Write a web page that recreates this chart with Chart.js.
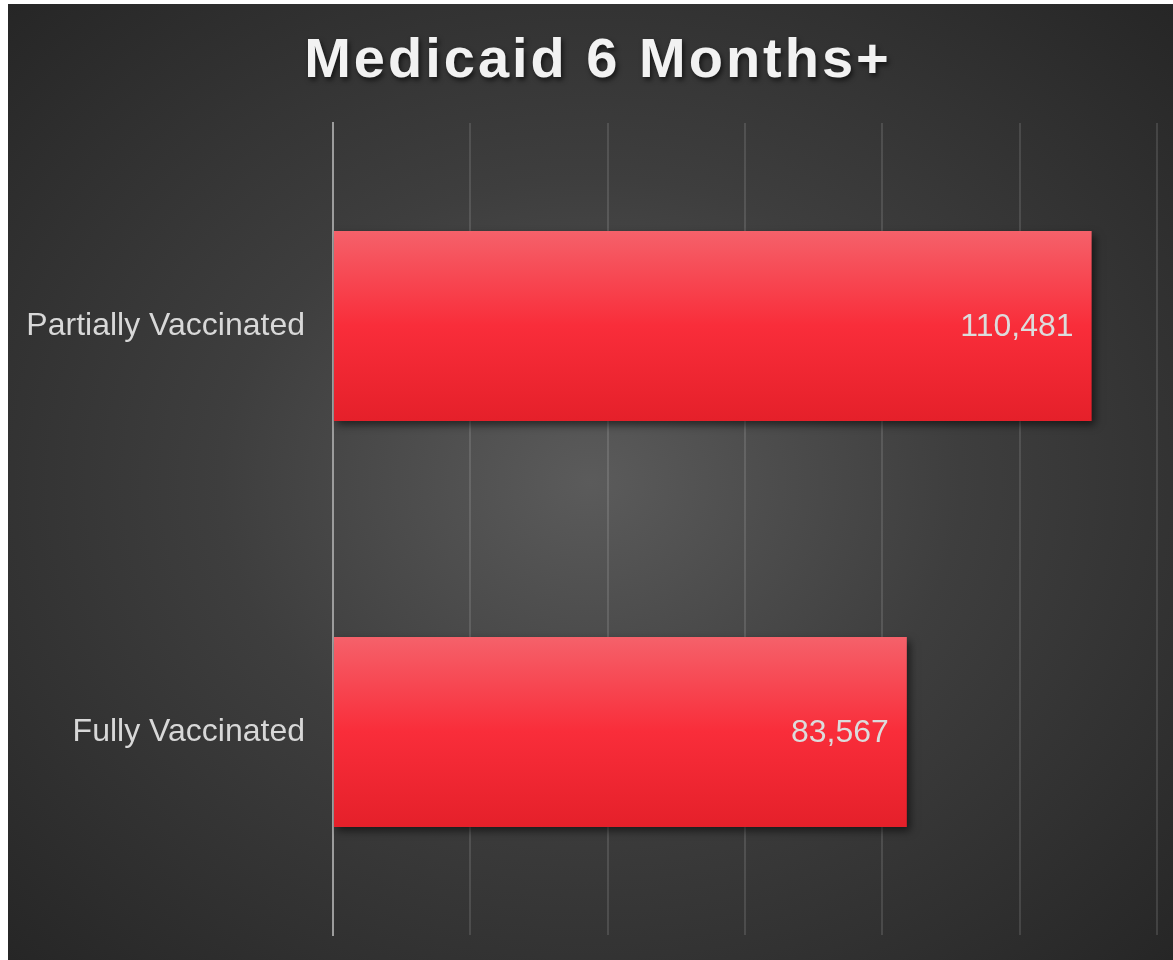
<!DOCTYPE html>
<html>
<head>
<meta charset="utf-8">
<script src="https://cdn.jsdelivr.net/npm/chart.js@4/dist/chart.umd.min.js"></script>
<style>
    html, body { margin: 0; padding: 0; background: #ffffff; }
    #panel {
        position: absolute; left: 8px; top: 4px; width: 1165px; height: 956px;
        background: radial-gradient(ellipse at 50% 50%, #5b5b5b 0%, #3e3e3e 45%, #262626 100%);
    }
    #wrap { position: absolute; left: 0; top: 0; width: 1173px; height: 960px; }
</style>
</head>
<body>
<div id="panel"></div>
<div id="wrap"><canvas id="chart" width="1173" height="960"></canvas></div>
<script>
const chartTitle = 'Medicaid 6 Months+';
const categories = ['Partially Vaccinated', 'Fully Vaccinated'];
const counts = [110481, 83567];
const axisMax = 120000;
const axisStep = 20000;

const BAR_PCT = 0.468;

// bar fill: vertical gradient inside each bar
function barGradient(context) {
    const chart = context.chart;
    const area = chart.chartArea;
    if (!area || !chart.scales.y) return '#f92d3a';
    const center = chart.scales.y.getPixelForValue(context.dataIndex);
    const half = (area.height / categories.length) * BAR_PCT / 2;
    const g = chart.ctx.createLinearGradient(0, center - half, 0, center + half);
    g.addColorStop(0, '#f5616a');
    g.addColorStop(0.5, '#f92d3a');
    g.addColorStop(1, '#e5202a');
    return g;
}

const decorPlugin = {
    id: 'decor',
    beforeDatasetsDraw(chart) {
        const ctx = chart.ctx;
        ctx.save();
        ctx.shadowColor = 'rgba(0,0,0,0.55)';
        ctx.shadowBlur = 8;
        ctx.shadowOffsetX = 3;
        ctx.shadowOffsetY = 4;
    },
    afterDatasetsDraw(chart) {
        const ctx = chart.ctx;
        ctx.restore();
        // value labels inside the bar ends
        const meta = chart.getDatasetMeta(0);
        ctx.save();
        ctx.font = '32px "Liberation Sans", Arial, sans-serif';
        ctx.fillStyle = '#dcdcdc';
        ctx.textAlign = 'right';
        ctx.textBaseline = 'middle';
        meta.data.forEach((bar, i) => {
            ctx.fillText(counts[i].toLocaleString('en-US'), bar.x - 18, bar.y + 1);
        });
        ctx.restore();
    },
    afterDraw(chart) {
        const ctx = chart.ctx;
        ctx.save();
        ctx.font = 'bold 56px "Liberation Sans", Arial, sans-serif';
        ctx.letterSpacing = '3px';
        ctx.fillStyle = '#f2f2f2';
        ctx.textAlign = 'center';
        ctx.textBaseline = 'alphabetic';
        ctx.shadowColor = 'rgba(0,0,0,0.6)';
        ctx.shadowBlur = 5;
        ctx.shadowOffsetX = 2;
        ctx.shadowOffsetY = 3;
        ctx.fillText(chartTitle, 598, 77);
        ctx.restore();
    },
};

new Chart(document.getElementById('chart'), {
    type: 'bar',
    data: {
        labels: categories,
        datasets: [{
            data: counts,
            backgroundColor: barGradient,
            borderWidth: 0,
            categoryPercentage: 1,
            barPercentage: BAR_PCT,
        }],
    },
    options: {
        indexAxis: 'y',
        responsive: false,
        animation: false,
        layout: { padding: { top: 123, right: 16, bottom: 25, left: 0 } },
        plugins: {
            legend: { display: false },
            tooltip: { enabled: false },
            title: { display: false },
        },
        scales: {
            x: {
                min: 0,
                max: axisMax,
                ticks: { display: false, stepSize: axisStep },
                grid: { color: 'rgba(255,255,255,0.12)', lineWidth: 2, drawTicks: false },
                border: { display: false },
                afterFit: (scale) => {
                    scale.height = 0;
                    scale.paddingLeft = 0;
                    scale.paddingRight = 0;
                },
            },
            y: {
                grid: { display: false, drawTicks: false },
                border: { display: true, color: '#9c9c9c', width: 2 },
                ticks: {
                    padding: 28,
                    color: '#d8d8d8',
                    font: { family: '"Liberation Sans", Arial, sans-serif', size: 32 },
                },
                afterFit: (scale) => {
                    scale.width = 333;
                    scale.paddingTop = 0;
                    scale.paddingBottom = 0;
                },
            },
        },
    },
    plugins: [decorPlugin],
});
</script>
</body>
</html>
